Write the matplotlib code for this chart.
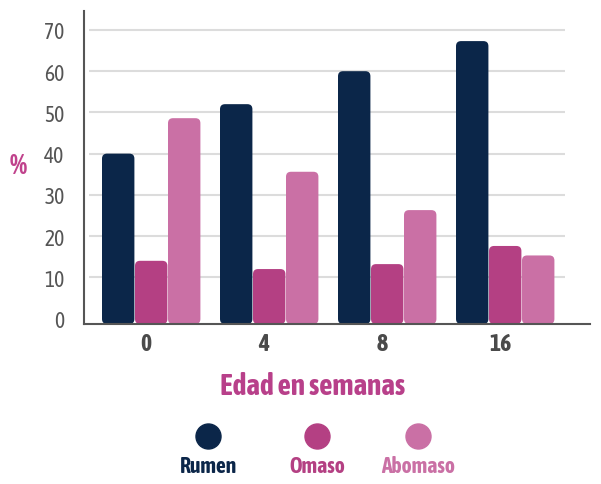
import matplotlib
matplotlib.use("Agg")
import matplotlib.pyplot as plt
from matplotlib.patches import FancyBboxPatch
from matplotlib.lines import Line2D

# data
weeks = ["0", "4", "8", "16"]
series = ["Rumen", "Omaso", "Abomaso"]
rumen = [40, 52, 60, 67.3]
omaso = [14, 12, 13.2, 17.6]
abomaso = [48.6, 35.6, 26.3, 15.3]
colors = ["#0b2649", "#b44083", "#ca70a5"]

plt.rcParams["font.family"] = ["Asap Condensed", "DejaVu Sans"]

W, H = 601, 485
fig = plt.figure(figsize=(W / 100, H / 100), dpi=100)
ax = fig.add_axes([84 / W, (H - 325) / H, 506 / W, 313 / H])

ymin, ymax = -1.33, 74.6
xmin, xmax = -0.572, 3.716
ax.set_xlim(xmin, xmax)
ax.set_ylim(ymin, ymax)

# pixel scale, used to keep the corner rounding circular
px_x = 506 / (xmax - xmin)
px_y = 313 / (ymax - ymin)
bar_w = 33 / px_x
radius = 5 / px_x

for j, vals in enumerate([rumen, omaso, abomaso]):
    for i, v in enumerate(vals):
        x0 = i + (j - 1.5) * bar_w
        p = FancyBboxPatch((x0, ymin), bar_w - 0.6 / px_x, v - ymin,
                           boxstyle=f"round,pad=0,rounding_size={radius}",
                           mutation_aspect=px_x / px_y,
                           facecolor=colors[j], edgecolor="none", zorder=3)
        ax.add_patch(p)

# gridlines
ax.hlines(range(10, 80, 10), -0.53, 3.504, color="#dcdcdc", lw=1.5, zorder=1)

for s in ["top", "right"]:
    ax.spines[s].set_visible(False)
for s in ["left", "bottom"]:
    ax.spines[s].set_color("#555555")
    ax.spines[s].set_linewidth(1.5)
    ax.spines[s].set_zorder(4)

ax.set_yticks(range(0, 80, 10))
ax.tick_params(axis="y", length=0, pad=14, labelsize=15.5, labelcolor="#555555")
ax.set_xticks([i - 0.045 for i in range(len(weeks))])
ax.set_xticklabels(weeks, fontweight="bold")
ax.tick_params(axis="x", length=0, pad=6, labelsize=17, labelcolor="#4a4a4a")

fig.text(18 / W, 1 - 166 / H, "%", color="#c0428c", fontsize=20,
         fontweight="bold", ha="center", va="center")
fig.text(313 / W, 1 - 395 / H, "Edad en semanas", color="#b8408a",
         fontsize=21, fontweight="bold", ha="center", va="baseline")

# legend
leg_x = [208, 317, 418]
for name, c, lx in zip(series, colors, leg_x):
    fig.add_artist(Line2D([lx / W], [1 - 437 / H], marker="o", markersize=18,
                          color=c, transform=fig.transFigure))
    fig.text(lx / W, 1 - 473 / H, name, color=c, fontsize=15.5,
             fontweight="bold", ha="center", va="baseline")

fig.savefig("out.png", dpi=100)
